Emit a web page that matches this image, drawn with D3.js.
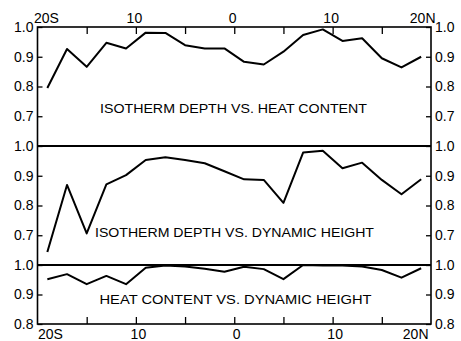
<!DOCTYPE html>
<html lang="en">
<head>
    <meta charset="UTF-8">
    <title>Correlation vs. latitude</title>
    <script src="https://cdnjs.cloudflare.com/ajax/libs/d3/7.8.5/d3.min.js"></script>
    <style>
        body { margin: 0; background: #fff; }
        .axis text { font: 14px "Liberation Sans", Arial, sans-serif; fill: #000; }
        .axis path { display: none; }
        .axis line { stroke: #000; stroke-width: 1.3px; }
        .frame { fill: none; stroke: #000; stroke-width: 1.6px; }
        .divider { stroke: #000; stroke-width: 2px; }
        .line { fill: none; stroke: #000; stroke-width: 2px; stroke-linejoin: round; }
        .title { font: 13.5px "Liberation Sans", Arial, sans-serif; fill: #000; }
    </style>
</head>
<body>
    <div id="chart"></div>

    <script>
        // latitude of each point (negative = south)
        const lat = [-19, -17, -15, -13, -11, -9, -7, -5, -3, -1, 1, 3, 5, 7, 9, 11, 13, 15, 17, 19];

        // correlations
        const isoHeat = [0.795, 0.926, 0.866, 0.947, 0.928, 0.981, 0.980, 0.939, 0.928, 0.928,
                         0.883, 0.874, 0.917, 0.973, 0.992, 0.953, 0.962, 0.895, 0.864, 0.900];
        const isoDyn = [0.644, 0.869, 0.706, 0.871, 0.902, 0.953, 0.962, 0.953, 0.942, 0.915,
                        0.888, 0.886, 0.809, 0.978, 0.984, 0.925, 0.944, 0.886, 0.838, 0.888];
        const heatDyn = [0.952, 0.969, 0.935, 0.963, 0.935, 0.991, 0.998, 0.995, 0.987, 0.977,
                         0.994, 0.986, 0.952, 1.000, 0.998, 0.998, 0.995, 0.983, 0.957, 0.989];

        const titles = ["ISOTHERM DEPTH  VS. HEAT CONTENT",
                        "ISOTHERM DEPTH  VS. DYNAMIC HEIGHT",
                        "HEAT CONTENT  VS.  DYNAMIC HEIGHT"];

        const xTicks = [-15, -10, -5, 0, 5, 10, 15];
        const xLabelTicks = [-20, -10, 0, 10, 20];
        function latLabel(d) {
            if (d === -20) return "20S";
            if (d === 20) return "20N";
            return String(Math.abs(d));
        }

        const width = 461, height = 341;
        const mLeft = 37.5, mRight = 431, mTop = 27, mBottom = 324;

        const svg = d3.select("#chart").append("svg")
            .attr("width", width)
            .attr("height", height);

        const x = d3.scaleLinear().domain([-20, 20]).range([mLeft, mRight]);

        // three stacked panels, 0.1 per ~29.7px
        const y1 = d3.scaleLinear().domain([0.6, 1.0]).range([146, mTop]);
        const y2 = d3.scaleLinear().domain([0.6, 1.0]).range([265, 146]);
        const y3 = d3.scaleLinear().domain([0.8, 1.0]).range([mBottom, 265]);

        const panels = [
            { y: y1, values: isoHeat, ticks: [1.0, 0.9, 0.8, 0.7], title: titles[0], tx: 100, tw: 267, ty: 112.5 },
            { y: y2, values: isoDyn, ticks: [1.0, 0.9, 0.8, 0.7], title: titles[1], tx: 95, tw: 279, ty: 236.5 },
            { y: y3, values: heatDyn, ticks: [1.0, 0.9, 0.8], title: titles[2], tx: 99.5, tw: 272, ty: 304 }
        ];

        panels.forEach(function(p) {
            svg.append("g")
                .attr("class", "axis")
                .attr("transform", "translate(" + mLeft + ",0)")
                .call(d3.axisLeft(p.y).tickValues(p.ticks).tickSize(-5).tickPadding(4)
                    .tickFormat(d3.format(".1f")));

            svg.append("g")
                .attr("class", "axis")
                .attr("transform", "translate(" + mRight + ",0)")
                .call(d3.axisRight(p.y).tickValues(p.ticks).tickSize(-5).tickPadding(4)
                    .tickFormat(d3.format(".1f")));

            const line = d3.line()
                .x(function(d, i) { return x(lat[i]); })
                .y(function(d) { return p.y(d); });

            svg.append("path")
                .datum(p.values)
                .attr("class", "line")
                .attr("d", line);

            svg.append("text")
                .attr("class", "title")
                .attr("x", p.tx)
                .attr("y", p.ty)
                .attr("textLength", p.tw)
                .attr("lengthAdjust", "spacingAndGlyphs")
                .text(p.title);
        });

        // latitude ticks, pointing inward at top and bottom
        svg.append("g")
            .attr("class", "axis")
            .attr("transform", "translate(0," + mTop + ")")
            .call(d3.axisTop(x).tickValues(xTicks).tickSize(-7).tickFormat(""));
        svg.append("g")
            .attr("class", "axis")
            .attr("transform", "translate(0," + mBottom + ")")
            .call(d3.axisBottom(x).tickValues(xTicks).tickSize(-7).tickFormat(""));

        // latitude labels
        const topLab = svg.append("g").attr("class", "axis")
            .attr("transform", "translate(0," + mTop + ")")
            .call(d3.axisTop(x).tickValues(xLabelTicks).tickSize(0).tickPadding(4).tickFormat(latLabel));
        topLab.selectAll("line").remove();
        topLab.selectAll("text")
            .attr("text-anchor", function(d) { return d === -20 ? "start" : d === 20 ? "end" : "middle"; })
            .attr("dx", function(d) { return d === -20 ? -4 : d === 20 ? 4 : -2; });

        const botLab = svg.append("g").attr("class", "axis")
            .attr("transform", "translate(0," + mBottom + ")")
            .call(d3.axisBottom(x).tickValues(xLabelTicks).tickSize(0).tickPadding(5).tickFormat(latLabel));
        botLab.selectAll("line").remove();
        botLab.selectAll("text")
            .attr("text-anchor", function(d) { return d === -20 ? "start" : d === 20 ? "end" : "middle"; })
            .attr("dx", function(d) { return d === -20 ? 0 : d === 20 ? -3 : 2; });

        // frame and panel dividers
        svg.append("rect")
            .attr("class", "frame")
            .attr("x", mLeft).attr("y", mTop)
            .attr("width", mRight - mLeft).attr("height", mBottom - mTop);

        [y2(1.0), y3(1.0)].forEach(function(yy) {
            svg.append("line")
                .attr("class", "divider")
                .attr("x1", mLeft).attr("x2", mRight)
                .attr("y1", yy).attr("y2", yy);
        });
    </script>
</body>
</html>
